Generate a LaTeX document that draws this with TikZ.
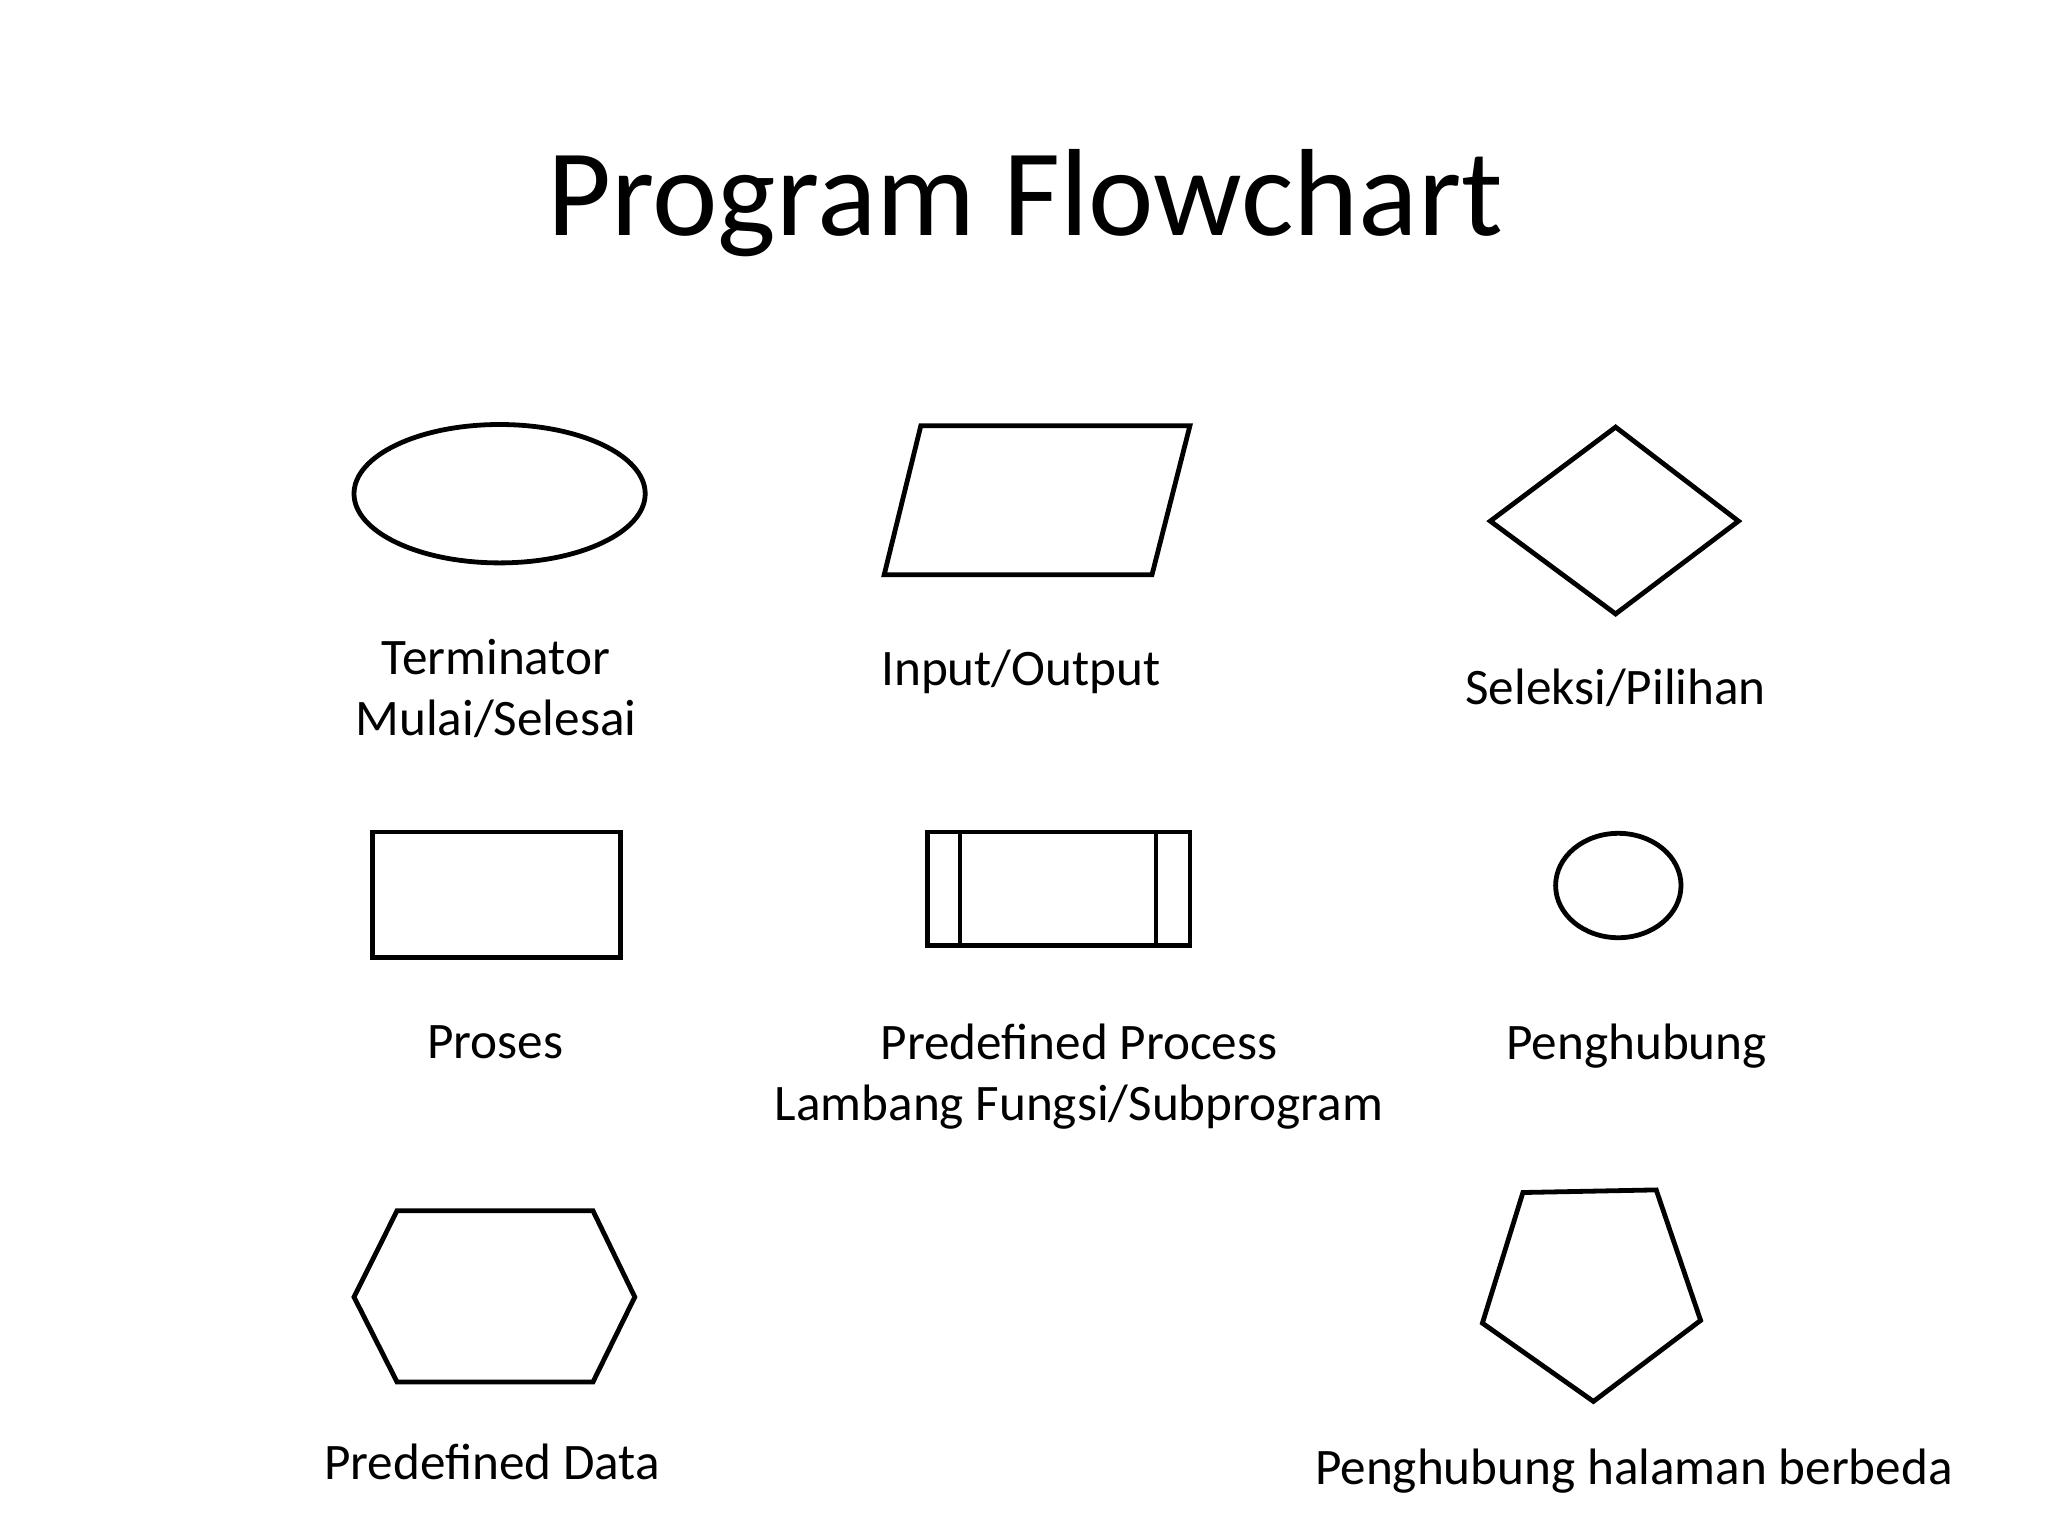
\documentclass[tikz,border=0pt]{standalone}
\usepackage{fontspec}
\setmainfont{Carlito}
\begin{document}
\begin{tikzpicture}[x=0.5pt,y=-0.5pt,
  shp/.style={draw=black,line width=2.4pt,line join=miter},
  lbl/.style={font=\fontsize{25.6}{30.5}\selectfont,align=center,inner sep=0pt}]
\useasboundingbox (0,0) rectangle (2048,1536);
\node[font=\fontsize{62}{70}\selectfont,inner sep=0pt] (title) at (1025,203) {Program Flowchart};
% shapes
\draw[shp] (499.6,493.7) ellipse [x radius=145.6, y radius=69.2];
\coordinate (term) at (499.6,493.7);
\draw[shp] (920.8,425.8) -- (1189.9,425.8) -- (1152,574.7) -- (884.2,574.7) -- cycle;
\draw[shp] (1615.6,427.1) -- (1738.4,521.1) -- (1615.6,613.9) -- (1490.3,521.1) -- cycle;
\draw[shp] (372.2,832) rectangle (620.4,957.4);
\draw[shp] (927.3,832) rectangle (1189.9,945.6);
\draw[shp] (960,832) -- (960,945.6);
\draw[shp] (1155.9,832) -- (1155.9,945.6);
\draw[shp] (1618.3,885.5) ellipse [x radius=62.7, y radius=52.2];
\draw[shp] (397,1210.8) -- (593,1210.8) -- (634.8,1297) -- (593,1381.9) -- (397,1381.9) -- (354,1297) -- cycle;
\draw[shp] (1522.9,1192.5) -- (1656.2,1189.9) -- (1700.6,1320.4) -- (1593.4,1401.4) -- (1482.4,1323.1) -- cycle;
% labels
\node[lbl] (l1) at (496,688) {Terminator\\Mulai/Selesai};
\node[lbl] (l2) at (1021,672) {Input/Output};
\node[lbl] (l3) at (1615.6,688) {Seleksi/Pilihan};
\node[lbl] (l4) at (495,1042) {Proses};
\node[lbl] (l5) at (1079,1077) {Predefined Process\\Lambang Fungsi/Subprogram};
\node[lbl] (l6) at (1636.6,1046) {Penghubung};
\node[lbl] (l7) at (492,1462) {Predefined Data};
\node[lbl] (l8) at (1634,1471) {Penghubung halaman berbeda};
\end{tikzpicture}
\end{document}
